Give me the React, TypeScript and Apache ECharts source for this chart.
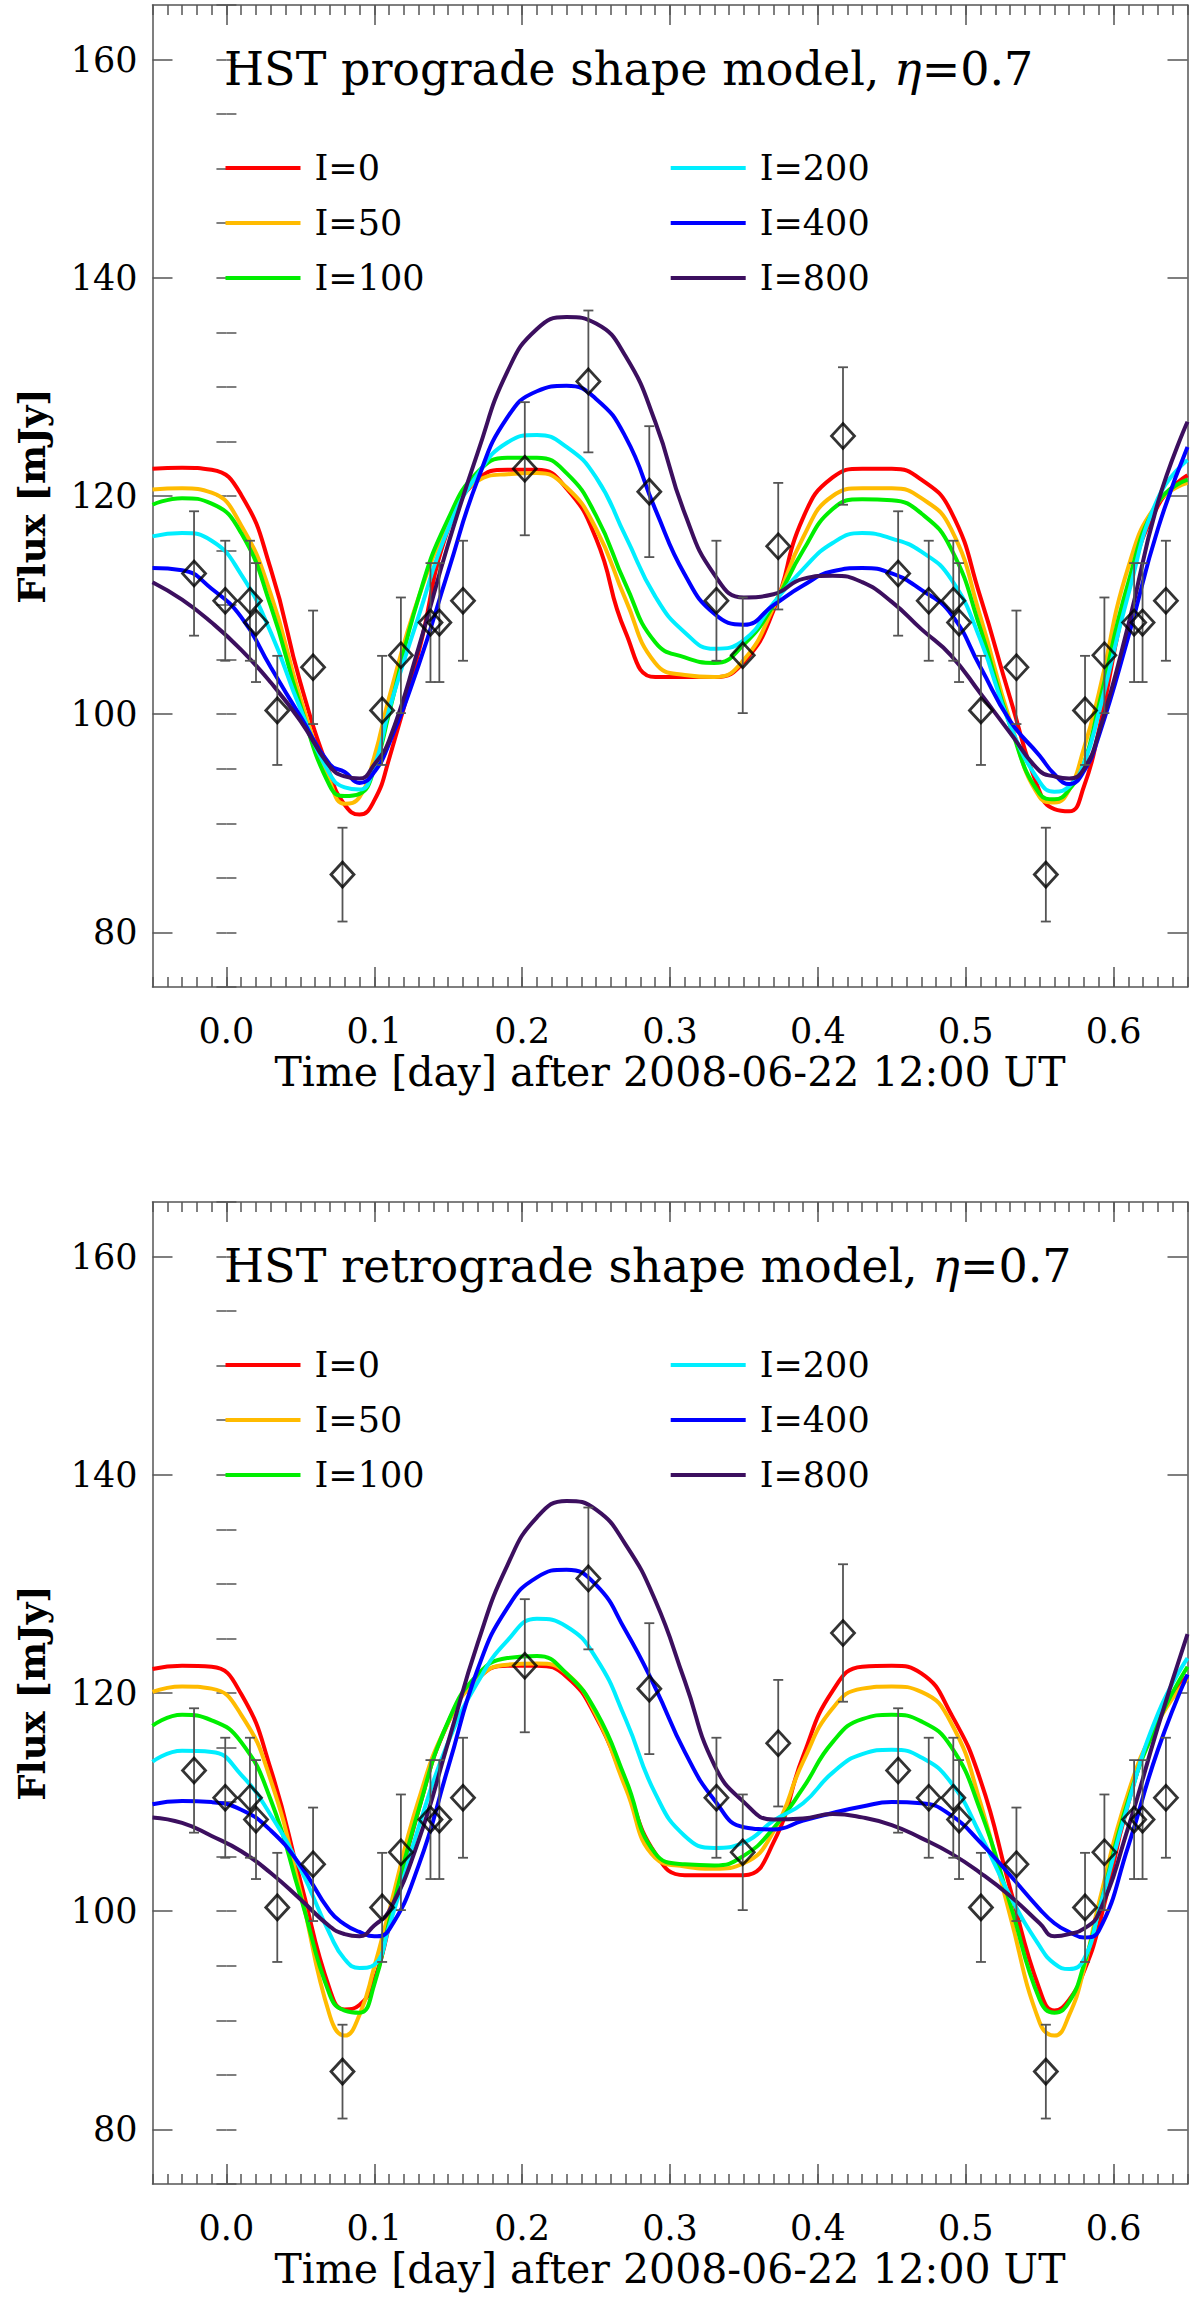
import { useEffect, useRef } from 'react';
import * as echarts from 'echarts';

// model time grid [day] shared by all curves
const T = [-0.05, -0.03, -0.01, 0.01, 0.03, 0.05, 0.07, 0.08, 0.09, 0.10, 0.11, 0.13, 0.15, 0.17, 0.19, 0.21, 0.23, 0.25, 0.27, 0.29,
    0.31, 0.33, 0.35, 0.37, 0.39, 0.41, 0.43, 0.45, 0.47, 0.49, 0.51, 0.53, 0.55, 0.56, 0.57, 0.58, 0.59, 0.61, 0.63, 0.65];

// prograde model fluxes [mJy]
const PRO_I0 = [122.5, 122.6, 122.4, 120.1, 113.3, 102.9, 94.5, 91.7, 90.8, 92.1, 95.9, 105.7, 117.0, 121.5, 122.4, 122.4, 120.7, 116.1, 107.5, 103.4,
    103.4, 103.4, 104.8, 109.5, 118.0, 121.7, 122.5, 122.5, 121.5, 118.6, 110.7, 101.5, 92.9, 91.3, 91.1, 93.4, 98.5, 111.4, 119.1, 121.9];
const PRO_I50 = [120.6, 120.7, 120.3, 117.3, 111.0, 101.5, 93.8, 91.8, 92.4, 96.1, 101.5, 110.7, 117.3, 121.4, 122.0, 122.1, 120.8, 117.0, 110.5, 104.7,
    103.6, 103.4, 105.0, 109.8, 116.2, 120.0, 120.7, 120.7, 119.8, 117.0, 108.9, 99.4, 92.4, 91.9, 93.1, 96.9, 101.9, 113.5, 119.4, 121.2];
const PRO_I100 = [119.2, 119.8, 119.3, 116.6, 109.9, 100.8, 93.4, 92.5, 92.7, 95.0, 100.1, 110.7, 117.9, 122.2, 123.5, 123.5, 122.1, 118.2, 111.9, 106.6,
    105.2, 104.7, 106.4, 110.0, 115.0, 118.8, 119.7, 119.6, 118.4, 115.2, 107.8, 99.0, 92.7, 92.2, 93.1, 95.5, 100.8, 112.1, 119.4, 121.5];
const PRO_I200 = [116.3, 116.6, 115.9, 112.8, 107.5, 100.5, 94.5, 93.3, 93.1, 95.2, 100.4, 109.0, 117.0, 122.0, 124.9, 125.6, 124.5, 121.7, 116.3, 110.8,
    107.5, 106.0, 106.8, 110.2, 113.3, 115.7, 116.6, 116.1, 114.9, 112.4, 106.8, 99.0, 93.8, 92.9, 93.4, 95.5, 100.1, 111.0, 119.8, 123.3];
const PRO_I400 = [113.4, 113.2, 111.5, 108.9, 104.3, 99.8, 95.4, 94.7, 93.7, 94.7, 97.3, 104.5, 113.1, 121.5, 127.2, 129.6, 130.1, 128.9, 125.4, 118.8,
    112.8, 109.2, 108.2, 110.0, 111.8, 113.1, 113.4, 112.9, 111.4, 109.2, 104.3, 99.4, 96.2, 94.5, 93.6, 94.8, 98.0, 107.1, 117.0, 124.5];
const PRO_I800 = [112.1, 110.5, 108.4, 105.9, 102.9, 99.4, 95.2, 94.3, 94.1, 95.4, 97.6, 106.1, 115.6, 124.0, 131.4, 135.3, 136.4, 135.8, 132.8, 126.8,
    118.4, 112.8, 110.7, 111.0, 112.4, 112.7, 112.1, 110.3, 107.8, 105.4, 101.9, 98.3, 94.8, 94.3, 94.1, 95.0, 98.3, 108.2, 119.4, 126.8];

// retrograde model fluxes [mJy]
const RET_I0 = [122.2, 122.5, 122.4, 119.9, 113.0, 102.8, 92.8, 91.0, 91.4, 93.7, 98.6, 109.3, 117.3, 121.3, 122.5, 122.5, 121.5, 117.8, 111.6, 105.3,
    103.3, 103.3, 103.3, 106.3, 114.2, 120.2, 122.4, 122.5, 121.8, 118.1, 112.0, 102.1, 92.8, 90.9, 91.9, 94.5, 98.6, 109.9, 117.6, 121.6];
const RET_I50 = [120.1, 120.6, 120.4, 118.0, 112.0, 101.8, 90.4, 88.6, 90.5, 94.9, 100.0, 110.2, 117.3, 121.3, 122.6, 122.7, 121.8, 118.0, 111.3, 104.9,
    104.1, 103.9, 104.4, 107.3, 113.7, 118.6, 120.4, 120.6, 120.1, 117.3, 109.9, 99.6, 89.8, 88.6, 90.5, 94.7, 100.7, 110.9, 117.3, 121.3];
const RET_I100 = [117.0, 118.0, 117.5, 115.5, 110.2, 101.4, 92.3, 90.9, 90.7, 93.3, 99.0, 109.3, 117.4, 121.7, 123.2, 123.4, 121.8, 118.3, 112.1, 105.3,
    104.3, 104.2, 105.1, 107.6, 111.3, 115.5, 117.6, 118.0, 117.4, 115.1, 109.2, 100.7, 91.9, 90.7, 91.7, 95.1, 100.0, 110.2, 117.3, 122.4];
const RET_I200 = [113.7, 114.7, 114.6, 112.5, 108.8, 103.9, 97.9, 95.6, 94.8, 95.1, 98.6, 107.7, 115.5, 121.0, 124.8, 126.8, 126.1, 123.2, 117.6, 110.8,
    106.9, 105.8, 106.3, 108.3, 109.9, 112.7, 114.4, 114.8, 114.1, 111.8, 107.0, 101.4, 96.8, 95.2, 94.7, 95.6, 100.0, 109.9, 118.1, 123.2];
const RET_I400 = [109.8, 110.1, 110.0, 109.3, 107.4, 104.2, 100.0, 98.8, 98.1, 97.7, 98.3, 104.2, 113.2, 122.2, 127.8, 130.6, 131.3, 129.9, 125.7, 120.5,
    114.6, 110.2, 107.7, 107.5, 108.3, 109.0, 109.6, 110.0, 109.9, 108.8, 106.3, 103.3, 100.2, 98.9, 98.1, 97.6, 98.2, 106.0, 114.8, 121.7];
const RET_I800 = [108.6, 108.1, 106.9, 105.5, 103.5, 101.1, 98.6, 97.9, 97.7, 98.7, 100.0, 106.5, 115.5, 124.6, 131.7, 136.1, 137.6, 136.8, 133.6, 128.5,
    121.1, 113.4, 110.0, 108.4, 108.5, 108.9, 108.6, 107.9, 106.7, 105.3, 103.5, 101.4, 98.9, 97.7, 97.9, 98.4, 99.8, 107.7, 116.9, 125.4];

// HST measurements
const OBS_T = [-0.0219, -0.0008, 0.0159, 0.0200, 0.0344, 0.0586, 0.0785, 0.1053, 0.1180, 0.1380, 0.1440, 0.1600, 0.2018, 0.2448, 0.2860,
    0.3314, 0.3492, 0.3732, 0.4170, 0.4543, 0.4750, 0.4916, 0.4955, 0.5103, 0.5343, 0.5542, 0.5807, 0.5938, 0.6139, 0.6196, 0.6354];
const OBS_FLUX = [112.9, 110.4, 110.4, 108.4, 100.35, 104.3, 85.3, 100.35, 105.4, 108.4, 108.4, 110.4, 122.5, 130.5, 120.4,
    110.4, 105.4, 115.4, 125.5, 112.9, 110.4, 110.4, 108.4, 100.35, 104.3, 85.3, 100.35, 105.4, 108.4, 108.4, 110.4];
const OBS_ERR = [5.7, 5.5, 5.5, 5.45, 5.0, 5.2, 4.3, 5.0, 5.3, 5.45, 5.45, 5.5, 6.1, 6.5, 6.0,
    5.5, 5.3, 5.8, 6.3, 5.7, 5.5, 5.5, 5.45, 5.0, 5.2, 4.3, 5.0, 5.3, 5.45, 5.45, 5.5];

const NAMES = ['I=0', 'I=50', 'I=100', 'I=200', 'I=400', 'I=800'];
const COLORS = ['#ff0000', '#ffbb00', '#00ee00', '#00eeff', '#0000ff', '#3c0f5f'];
const X_MAJOR = [0.0, 0.1, 0.2, 0.3, 0.4, 0.5, 0.6];
const Y_MAJOR = [80, 100, 120, 140, 160];

const PANELS = [
    { title: 'HST prograde shape model, {g|η}=0.7', curves: [PRO_I0, PRO_I50, PRO_I100, PRO_I200, PRO_I400, PRO_I800] },
    { title: 'HST retrograde shape model, {g|η}=0.7', curves: [RET_I0, RET_I50, RET_I100, RET_I200, RET_I400, RET_I800] },
];

const FONT = 'DejaVu Serif';
const AXIS_COLOR = '#555';
const GRID_LEFT = 152.5;
const GRID_W = 1035;
const GRID_H = 982;
const GRID_TOPS = [5, 1202];

export default function App() {
    const chartRef = useRef<HTMLDivElement>(null);

    useEffect(() => {
        if (!chartRef.current) return;
        const chart = echarts.init(chartRef.current, undefined, { renderer: 'svg' });

        const xAxis: any[] = [];
        const yAxis: any[] = [];
        const series: any[] = [];
        const legend: any[] = [];
        const title: any[] = [];

        const tickLine = { lineStyle: { color: AXIS_COLOR, width: 1.5 } };
        const frameLine = { show: true, onZero: false, lineStyle: { color: AXIS_COLOR, width: 1.5 } };

        PANELS.forEach((panel, p) => {
            const top = GRID_TOPS[p];
            const xb = p * 4;
            const yb = p * 4;

            // x: main (labels + major ticks), minor ticks, top mirror major, top mirror minor
            xAxis.push({
                gridIndex: p, type: 'value', min: -0.05, max: 0.65, position: 'bottom',
                name: 'Time [day] after 2008-06-22 12:00 UT', nameLocation: 'middle', nameGap: 64,
                nameTextStyle: { fontFamily: FONT, fontSize: 41, color: '#000' },
                axisLine: frameLine,
                axisTick: { show: true, inside: true, length: 20, customValues: X_MAJOR, ...tickLine },
                axisLabel: { show: true, customValues: X_MAJOR, margin: 26, fontFamily: FONT, fontSize: 35, color: '#000',
                    formatter: (v: number) => v.toFixed(1) },
                splitLine: { show: false },
            });
            xAxis.push({
                gridIndex: p, type: 'value', min: -0.05, max: 0.65, interval: 0.01, position: 'bottom',
                axisLine: { show: false }, axisLabel: { show: false }, splitLine: { show: false },
                axisTick: { show: true, inside: true, length: 10, ...tickLine },
            });
            xAxis.push({
                gridIndex: p, type: 'value', min: -0.05, max: 0.65, position: 'top',
                axisLine: frameLine,
                axisTick: { show: true, inside: true, length: 20, customValues: X_MAJOR, ...tickLine },
                axisLabel: { show: false }, splitLine: { show: false },
            });
            xAxis.push({
                gridIndex: p, type: 'value', min: -0.05, max: 0.65, interval: 0.01, position: 'top',
                axisLine: { show: false }, axisLabel: { show: false }, splitLine: { show: false },
                axisTick: { show: true, inside: true, length: 10, ...tickLine },
            });

            yAxis.push({
                gridIndex: p, type: 'value', min: 75, max: 165, position: 'left',
                name: 'Flux [mJy]', nameLocation: 'middle', nameGap: 102,
                nameTextStyle: { fontFamily: FONT, fontSize: 37, fontWeight: 'bold', color: '#000' },
                axisLine: frameLine,
                axisTick: { show: true, inside: true, length: 20, customValues: Y_MAJOR, ...tickLine },
                axisLabel: { show: true, customValues: Y_MAJOR, margin: 15, fontFamily: FONT, fontSize: 35, color: '#000' },
                splitLine: { show: false },
            });
            yAxis.push({
                gridIndex: p, type: 'value', min: 75, max: 165, interval: 5, position: 'left',
                axisLine: { show: false }, axisLabel: { show: false }, splitLine: { show: false },
                axisTick: { show: true, inside: true, length: 10, ...tickLine },
            });
            yAxis.push({
                gridIndex: p, type: 'value', min: 75, max: 165, position: 'right',
                axisLine: frameLine,
                axisTick: { show: true, inside: true, length: 20, customValues: Y_MAJOR, ...tickLine },
                axisLabel: { show: false }, splitLine: { show: false },
            });
            yAxis.push({
                gridIndex: p, type: 'value', min: 75, max: 165, interval: 5, position: 'right',
                axisLine: { show: false }, axisLabel: { show: false }, splitLine: { show: false },
                axisTick: { show: true, inside: true, length: 10, ...tickLine },
            });

            panel.curves.forEach((vals, k) => {
                series.push({
                    name: NAMES[k], type: 'line', xAxisIndex: xb, yAxisIndex: yb,
                    data: T.map((t, i) => [t, vals[i]]),
                    smooth: 0.5, showSymbol: false, symbol: 'none',
                    lineStyle: { color: COLORS[k], width: 4 }, itemStyle: { color: COLORS[k] },
                    z: 2,
                });
            });

            series.push({
                type: 'custom', xAxisIndex: xb, yAxisIndex: yb, z: 3,
                data: OBS_T.map((t, i) => [t, OBS_FLUX[i], OBS_ERR[i]]),
                encode: { x: 0, y: 1 },
                renderItem: (_params: any, api: any) => {
                    const x = api.value(0);
                    const y = api.value(1);
                    const e = api.value(2);
                    const hi = api.coord([x, y + e]);
                    const lo = api.coord([x, y - e]);
                    const hw = 5;
                    const style = { stroke: '#555', lineWidth: 1.8 };
                    return {
                        type: 'group',
                        children: [
                            { type: 'line', shape: { x1: hi[0], y1: hi[1], x2: lo[0], y2: lo[1] }, style },
                            { type: 'line', shape: { x1: hi[0] - hw, y1: hi[1], x2: hi[0] + hw, y2: hi[1] }, style },
                            { type: 'line', shape: { x1: lo[0] - hw, y1: lo[1], x2: lo[0] + hw, y2: lo[1] }, style },
                        ],
                    };
                },
            });

            series.push({
                type: 'scatter', xAxisIndex: xb, yAxisIndex: yb, z: 4,
                data: OBS_T.map((t, i) => [t, OBS_FLUX[i]]),
                symbol: 'diamond', symbolSize: [23, 25],
                itemStyle: { color: 'rgba(0,0,0,0)', borderColor: '#000', borderWidth: 2.8 },
            });

            const legendBase = {
                orient: 'vertical', padding: 0, itemWidth: 75, itemHeight: 4, itemGap: 15,
                icon: 'rect', selectedMode: false, top: top + 143,
                textStyle: { fontFamily: FONT, fontSize: 35, color: '#000', lineHeight: 40, padding: [0, 0, 0, 9] },
            };
            legend.push({ ...legendBase, left: 225.5, data: NAMES.slice(0, 3) });
            legend.push({ ...legendBase, left: 670.7, data: NAMES.slice(3) });

            title.push({
                text: panel.title, left: 224, top: top + 41, padding: 0,
                textStyle: {
                    fontFamily: FONT, fontSize: 46, fontWeight: 'normal', color: '#000',
                    rich: { g: { fontFamily: FONT, fontSize: 46, fontStyle: 'italic', color: '#000' } },
                },
            });
        });

        const option: any = {
            animation: false,
            backgroundColor: '#fff',
            title,
            legend,
            grid: GRID_TOPS.map((top) => ({
                left: GRID_LEFT, top, width: GRID_W, height: GRID_H, outerBoundsMode: 'none', containLabel: false,
            })),
            xAxis,
            yAxis,
            series,
        };

        chart.setOption(option);

        return () => {
            chart.dispose();
        };
    }, []);

    return (
        <div
            ref={chartRef}
            style={{ position: 'absolute', left: 0, top: 0, width: '1200px', height: '2303px' }}
        />
    );
}
